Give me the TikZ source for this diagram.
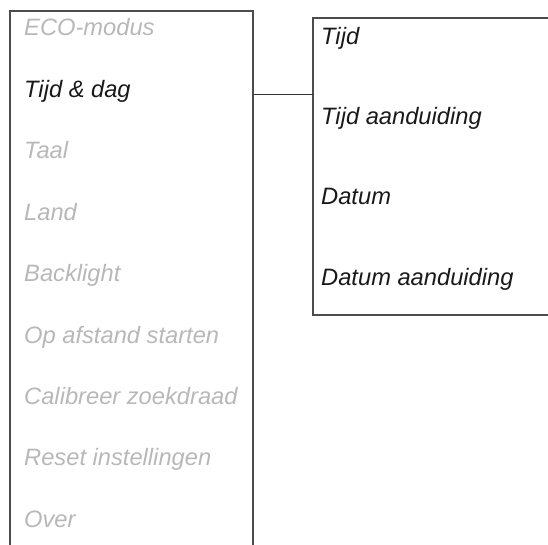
\documentclass[tikz,border=0pt]{standalone}
\usepackage{fontspec}
\setmainfont{Liberation Sans}
\begin{document}
\begin{tikzpicture}[x=1pt,y=-1pt,
  frame/.style={draw=black!70,line width=1.3pt},
  item/.style={anchor=base west,inner sep=0pt,font=\itshape\fontsize{23.7}{28}\selectfont},
  dim/.style={item,text=black!28},
  act/.style={item,text=black!90}]
\useasboundingbox (0,0) rectangle (548,545);
\draw[frame] (10,545) -- (10,11) -- (253,11) -- (253,545);
\draw[frame] (548,18) -- (313,18) -- (313,315) -- (548,315);
\coordinate (lb) at (253,95);
\coordinate (rb) at (313,95);
\node[dim] (m1) at (24,36) {ECO-modus};
\node[act] (m2) at (24,97.4) {Tijd \& dag};
\node[dim] (m3) at (24,158.8) {Taal};
\node[dim] (m4) at (24,220.2) {Land};
\node[dim] (m5) at (24,281.6) {Backlight};
\node[dim] (m6) at (24,343) {Op afstand starten};
\node[dim] (m7) at (24,404.4) {Calibreer zoekdraad};
\node[dim] (m8) at (24,465.8) {Reset instellingen};
\node[dim] (m9) at (24,527.2) {Over};
\node[act] (s1) at (321,45) {Tijd};
\node[act] (s2) at (321,125) {Tijd aanduiding};
\node[act] (s3) at (321,205) {Datum};
\node[act] (s4) at (321,285) {Datum aanduiding};
\draw[black!80,line width=1pt] (lb) -- (rb);
\end{tikzpicture}
\end{document}
